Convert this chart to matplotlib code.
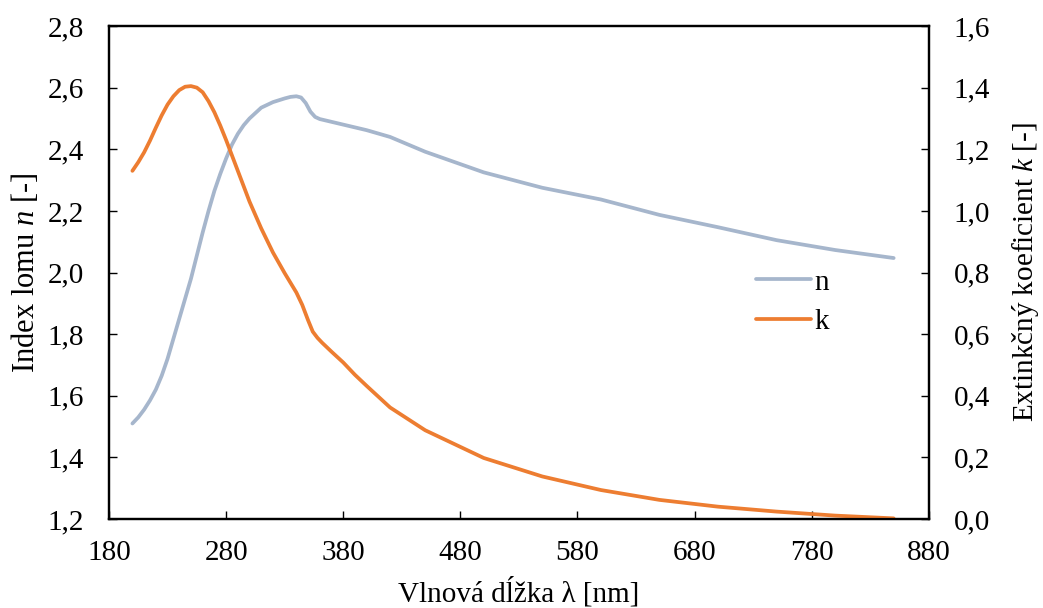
import matplotlib
matplotlib.use("Agg")
import matplotlib.pyplot as plt
from matplotlib.ticker import FuncFormatter

plt.rcParams['font.family'] = ['Liberation Serif', 'DejaVu Serif']
plt.rcParams['mathtext.fontset'] = 'custom'
plt.rcParams['mathtext.rm'] = 'Liberation Serif'
plt.rcParams['mathtext.it'] = 'Liberation Serif:italic'

# vlnova dlzka [nm]
wl_n = [200, 205, 210, 215, 220, 225, 230, 235, 240, 245, 250, 255, 260, 265, 270, 275, 280, 285, 290,
        295, 300, 310, 320, 330, 335, 340, 344, 348, 352, 356, 360, 370, 380, 400, 420, 450, 500,
        550, 600, 650, 700, 750, 800, 850]
n_vals = [1.51, 1.53, 1.555, 1.585, 1.62, 1.665, 1.72, 1.785, 1.85, 1.915, 1.98, 2.055, 2.13, 2.20,
          2.265, 2.32, 2.37, 2.415, 2.45, 2.478, 2.50, 2.535, 2.553, 2.565, 2.570, 2.572, 2.568,
          2.55, 2.522, 2.505, 2.498, 2.489, 2.48, 2.462, 2.44, 2.392, 2.325, 2.275, 2.237, 2.187,
          2.147, 2.105, 2.073, 2.047]

wl_k = [200, 205, 210, 215, 220, 225, 230, 235, 240, 245, 250, 255, 260, 265, 270, 275, 280, 290,
        300, 310, 320, 330, 340, 345, 350, 354, 358, 362, 370, 380, 390, 400, 420, 450, 500, 550,
        600, 650, 700, 750, 800, 850]
k_vals = [1.13, 1.158, 1.19, 1.228, 1.27, 1.31, 1.345, 1.372, 1.392, 1.403, 1.405, 1.40, 1.385,
          1.356, 1.32, 1.277, 1.23, 1.13, 1.03, 0.943, 0.865, 0.798, 0.735, 0.695, 0.645, 0.608,
          0.588, 0.572, 0.543, 0.508, 0.468, 0.432, 0.362, 0.288, 0.198, 0.138, 0.094, 0.062,
          0.040, 0.024, 0.011, 0.002]

fs = 21
fig = plt.figure(figsize=(10.43, 6.08), dpi=100)
ax = fig.add_axes([0.1045, 0.1464, 0.786, 0.8108])
ax2 = ax.twinx()

l1, = ax.plot(wl_n, n_vals, color='#A6B6CC', lw=2.7, label='n', solid_capstyle='round',
              solid_joinstyle='round')
l2, = ax2.plot(wl_k, k_vals, color='#ED7D31', lw=2.7, label='k', solid_capstyle='round',
               solid_joinstyle='round')

ax.set_xlim(180, 880)
ax.set_ylim(1.2, 2.8)
ax2.set_ylim(0.0, 1.6)
ax.set_xticks(range(180, 881, 100))
ax.set_yticks([1.2 + 0.2 * i for i in range(9)])
ax2.set_yticks([0.2 * i for i in range(9)])

comma = FuncFormatter(lambda v, p: f"{v:.1f}".replace('.', ','))
ax.yaxis.set_major_formatter(comma)
ax2.yaxis.set_major_formatter(comma)

ax.tick_params(axis='x', direction='in', length=6, width=1, labelsize=fs, pad=15, top=False)
ax.tick_params(axis='y', direction='in', length=6, width=1, labelsize=fs, pad=18)
ax2.tick_params(axis='y', direction='in', length=6, width=1, labelsize=fs, pad=18)

for a in (ax, ax2):
    for s in a.spines.values():
        s.set_linewidth(1.6)
        s.set_color('black')

ax.set_xlabel('Vlnová dĺžka λ [nm]', fontsize=fs, labelpad=8)
ax.set_ylabel('Index lomu $\\mathit{n}$ [-]', fontsize=22, labelpad=5)
ax2.set_ylabel('Extinkčný koeficient $\\mathit{k}$ [-]', fontsize=fs, labelpad=14)

ax.legend(handles=[l1, l2], loc='center left', bbox_to_anchor=(0.757, 0.44), frameon=False,
          fontsize=fs, handlelength=1.9, handletextpad=0.1, labelspacing=0.45)

fig.savefig('out.png', dpi=100)
